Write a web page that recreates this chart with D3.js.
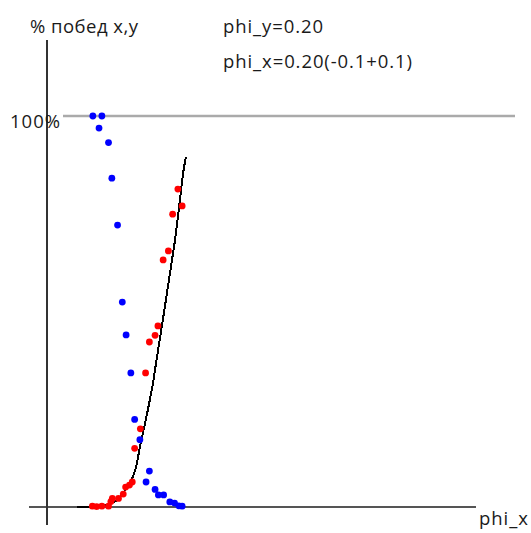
<!DOCTYPE html>
<html>
<head>
<meta charset="utf-8">
<script src="https://cdn.jsdelivr.net/npm/d3@7"></script>
<style>
  html, body { margin: 0; padding: 0; background: #fff; }
  svg { display: block; }
  text { font-family: "Open Sans", "Noto Sans", sans-serif; fill: #1a1a1a; }
</style>
</head>
<body>
<svg id="chart" width="531" height="533"></svg>
<script>
// Win rate of y (blue) and x (red) versus phi_x, in percent
const blueX = [0.106, 0.125, 0.119, 0.139, 0.146, 0.158, 0.168, 0.176, 0.186, 0.194,
               0.205, 0.225, 0.218, 0.237, 0.244, 0.255, 0.268, 0.278, 0.287, 0.294];
const blueY = [100.0, 100.0, 96.9, 93.2, 84.1, 72.1, 52.4, 44.0, 34.3, 22.4,
               17.2, 9.2, 6.4, 4.5, 3.1, 3.1, 1.3, 1.0, 0.3, 0.2];

const redX = [0.105, 0.114, 0.125, 0.139, 0.144, 0.147, 0.160, 0.170, 0.175, 0.183,
              0.189, 0.194, 0.206, 0.217, 0.225, 0.237, 0.243, 0.254, 0.265, 0.274,
              0.285, 0.294];
const redY = [0.2, 0.1, 0.2, 0.2, 1.4, 2.2, 2.2, 3.3, 5.1, 5.6,
              6.4, 15.0, 20.0, 34.3, 42.2, 43.9, 46.3, 63.2, 65.5, 74.9,
              81.3, 77.0];

// Theoretical curve
const curveX = [0.073, 0.111, 0.132, 0.157, 0.174, 0.187, 0.197, 0.205, 0.216, 0.226,
                0.233, 0.239, 0.251, 0.262, 0.272, 0.279, 0.290, 0.296, 0.302];
const curveY = [0.1, 0.1, 0.5, 1.8, 4.3, 6.9, 10.2, 15.3, 21.5, 27.4,
                32.0, 36.8, 46.0, 54.7, 62.7, 68.3, 79.3, 85.4, 89.5];

const yTickLabel = "100%";
const yTitle = "% побед x,y";
const xTitle = "phi_x";
const notes = ["phi_y=0.20", "phi_x=0.20(-0.1+0.1)"];

const svg = d3.select("#chart");

const x = d3.scaleLinear().domain([0, 1]).range([42.5, 517.5]);
const y = d3.scaleLinear().domain([0, 100]).range([507, 116]);

// 100% reference line
svg.append("line")
  .attr("x1", 63).attr("x2", 515)
  .attr("y1", y(100)).attr("y2", y(100))
  .attr("stroke", "#aaa").attr("stroke-width", 2.5);

// baseline (0%)
svg.append("line")
  .attr("x1", 29).attr("x2", 476)
  .attr("y1", y(0)).attr("y2", y(0))
  .attr("stroke", "#555").attr("stroke-width", 2);

// vertical axis
svg.append("line")
  .attr("x1", 47).attr("x2", 47)
  .attr("y1", 40).attr("y2", 525)
  .attr("stroke", "#333").attr("stroke-width", 2);

// theoretical curve
const line = d3.line()
  .x((d, i) => x(curveX[i]))
  .y(d => y(d))
  .curve(d3.curveMonotoneX);
svg.append("path")
  .datum(curveY)
  .attr("d", line)
  .attr("fill", "none")
  .attr("stroke", "#000")
  .attr("stroke-width", 2)
  .attr("shape-rendering", "crispEdges");

// points
svg.append("g").selectAll("circle")
  .data(blueY)
  .join("circle")
  .attr("cx", (d, i) => x(blueX[i]))
  .attr("cy", d => y(d))
  .attr("r", 3.4)
  .attr("fill", "#0000ff");

svg.append("g").selectAll("circle")
  .data(redY)
  .join("circle")
  .attr("cx", (d, i) => x(redX[i]))
  .attr("cy", d => y(d))
  .attr("r", 3.4)
  .attr("fill", "#ff0000");

// labels: [text, x, baseline y, width]
const fs = 18.5;
const labels = [
  [yTickLabel, 10, 128, 50],
  [yTitle, 30, 33, 108],
  [xTitle, 479, 525, 49],
  [notes[0], 223, 33, 100],
  [notes[1], 223, 68, 189]
];
svg.append("g").selectAll("text")
  .data(labels)
  .join("text")
  .attr("x", d => d[1])
  .attr("y", d => d[2])
  .attr("font-size", fs)
  .attr("textLength", d => d[3])
  .attr("lengthAdjust", "spacing")
  .text(d => d[0]);
</script>
</body>
</html>
